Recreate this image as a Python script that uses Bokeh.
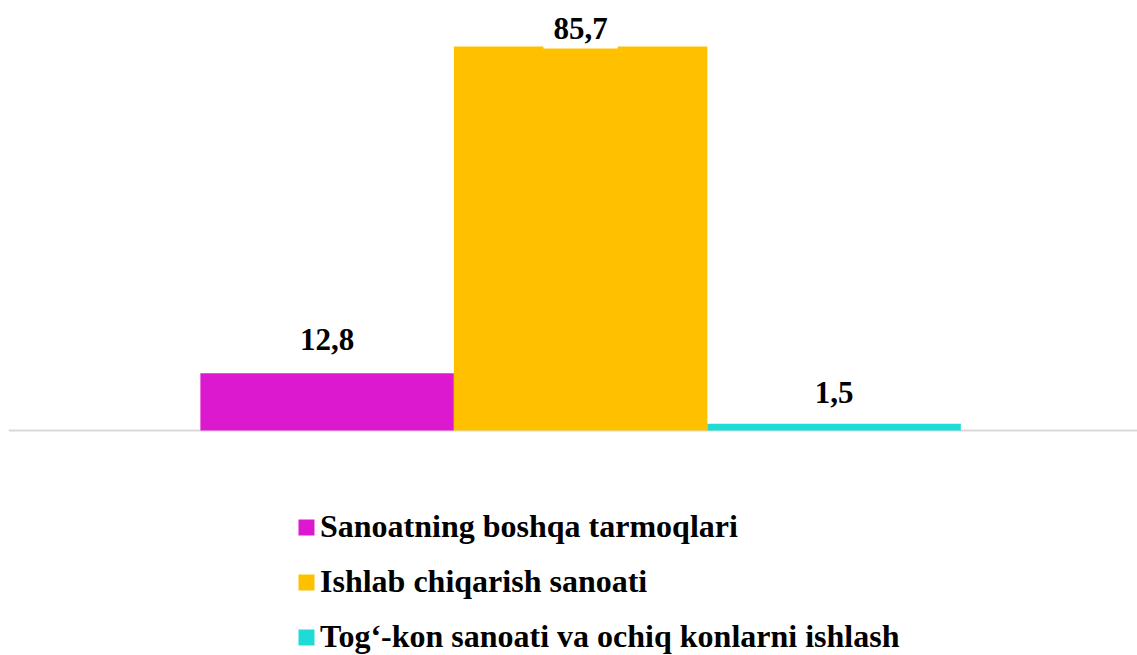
from bokeh.plotting import figure
from bokeh.models import ColumnDataSource, Label, Legend, LegendItem, Range1d, Span
from bokeh.embed import file_html
from bokeh.resources import INLINE

categories = ["Sanoatning boshqa tarmoqlari", "Ishlab chiqarish sanoati", "Tog‘-kon sanoati va ochiq konlarni ishlash"]
values = [12.8, 85.7, 1.5]
value_labels = ["12,8", "85,7", "1,5"]
colors = ["#DC19CF", "#FFC000", "#1EDBD6"]
label_offsets = [13, -2, 11]

src = ColumnDataSource(dict(
    x=list(range(len(categories))), top=values, color=colors,
))

p = figure(width=1137, height=655, output_backend="svg", toolbar_location=None,
           x_range=Range1d(-1.257, 3.197), y_range=Range1d(-50.2, 94.2),
           min_border=0, min_border_left=8, min_border_top=8)
p.xaxis.visible = False
p.yaxis.visible = False
p.xgrid.visible = False
p.ygrid.visible = False
p.outline_line_color = None
p.background_fill_color = "white"
p.border_fill_color = "white"

base = Span(location=0, dimension="width", line_color="#D9D9D9", line_width=2, level="underlay")
p.add_layout(base)

r = p.vbar(x="x", top="top", bottom=0, width=1.0, color="color", source=src, line_color=None)

for i, (v, t, off) in enumerate(zip(values, value_labels, label_offsets)):
    p.add_layout(Label(x=i, y=v, text=t, y_offset=off,
                       text_align="center", text_baseline="bottom",
                       text_font="Liberation Serif", text_font_style="bold",
                       text_font_size="31px", text_color="black",
                       background_fill_color="white",
                       padding=dict(left=10, right=10, top=0, bottom=10)))

items = [LegendItem(label=c, renderers=[r], index=i) for i, c in enumerate(categories)]
legend = Legend(items=items, location=(288, 0), orientation="vertical",
                glyph_width=20, glyph_height=20, label_standoff=4,
                label_text_font="Liberation Serif", label_text_font_style="bold",
                label_text_font_size="32px", label_text_color="black",
                label_height=30, spacing=18,
                padding=0, margin=0, border_line_color=None,
                background_fill_alpha=0)
p.add_layout(legend, "center")

open("out.html", "w").write(file_html(p, INLINE))
